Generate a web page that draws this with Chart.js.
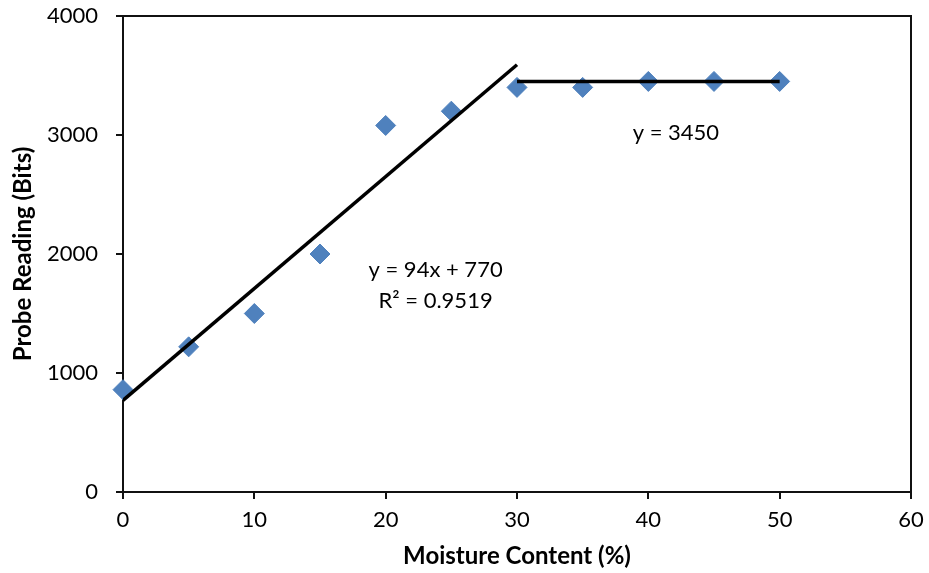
<!DOCTYPE html>
<html>
<head>
<meta charset="utf-8">
<title>Probe Reading vs Moisture Content</title>
<script src="https://cdn.jsdelivr.net/npm/chart.js@4.4.1/dist/chart.umd.min.js"></script>
<style>
  html, body { margin: 0; padding: 0; background: #fff; }
  #wrap { width: 929px; height: 573px; position: relative; }
</style>
</head>
<body>
<div id="wrap"><canvas id="probeChart"></canvas></div>
<script>
// measured points
const moisture = [0, 5, 10, 15, 20, 25, 30, 35, 40, 45, 50];
const probeReading = [860, 1220, 1500, 2000, 3080, 3200, 3400, 3400, 3450, 3450, 3450];

// linear fit over the rising part, flat fit over the plateau
const fitSlope = 94;
const fitIntercept = 770;
const fitRange = [0, 30];
const plateauValue = 3450;
const plateauRange = [30, 50];

const xTicks = [0, 10, 20, 30, 40, 50, 60];
const yTicks = [0, 1000, 2000, 3000, 4000];

const fitLabel = 'y = 94x + 770';
const r2Label = 'R\u00b2 = 0.9519';
const plateauLabel = 'y = 3450';

const FONT = 'Lato, "Open Sans", sans-serif';
Chart.defaults.font.family = FONT;
Chart.defaults.color = '#000';

const points = moisture.map((x, i) => ({ x: x, y: probeReading[i] }));
const fitLine = fitRange.map(x => ({ x: x, y: fitSlope * x + fitIntercept }));
const plateauLine = plateauRange.map(x => ({ x: x, y: plateauValue }));

// fixed axis boxes, no extra label overflow padding
function fixBox(size) {
    return s => {
        if (s.isHorizontal()) s.height = size; else s.width = size;
        s.paddingTop = s.paddingBottom = s.paddingLeft = s.paddingRight = 0;
    };
}

// box lines on top/right of plot area + equation labels
const extras = {
    id: 'extras',
    beforeDatasetsDraw(chart) {
        const { ctx, chartArea: a } = chart;
        ctx.save();
        ctx.strokeStyle = '#111';
        ctx.lineWidth = 2;
        ctx.beginPath();
        ctx.moveTo(a.left, a.top);
        ctx.lineTo(a.right, a.top);
        ctx.lineTo(a.right, a.bottom);
        ctx.stroke();
        ctx.restore();
    },
    afterDatasetsDraw(chart) {
        const { ctx, scales } = chart;
        ctx.save();
        ctx.fillStyle = '#000';
        ctx.font = '22px ' + FONT;
        ctx.textAlign = 'center';
        ctx.textBaseline = 'middle';
        const px = v => scales.x.getPixelForValue(v);
        const py = v => scales.y.getPixelForValue(v);
        ctx.fillText(fitLabel, px(23.8), py(1863));
        ctx.fillText(r2Label, px(23.8), py(1602));
        ctx.fillText(plateauLabel, px(42.1), py(3016));
        ctx.restore();
    }
};

const ctx = document.getElementById('probeChart').getContext('2d');
new Chart(ctx, {
    type: 'scatter',
    data: {
        datasets: [
            {
                label: 'Fit',
                type: 'line',
                data: fitLine,
                borderColor: '#000',
                borderWidth: 3.5,
                pointRadius: 0,
                fill: false,
                order: 1
            },
            {
                label: 'Plateau',
                type: 'line',
                data: plateauLine,
                borderColor: '#000',
                borderWidth: 3.5,
                pointRadius: 0,
                fill: false,
                order: 1
            },
            {
                label: 'Probe Reading',
                data: points,
                pointStyle: 'rectRot',
                pointRadius: 10,
                pointBackgroundColor: '#4f81bd',
                pointBorderColor: '#4f81bd',
                pointBorderWidth: 1,
                clip: false,
                order: 2
            }
        ]
    },
    options: {
        responsive: true,
        maintainAspectRatio: false,
        animation: false,
        layout: { padding: { top: 16, right: 18, left: 0, bottom: 0 } },
        plugins: {
            legend: { display: false },
            tooltip: { enabled: false }
        },
        scales: {
            x: {
                type: 'linear',
                min: 0,
                max: 60,
                afterBuildTicks: s => { s.ticks = xTicks.map(v => ({ value: v })); },
                afterFit: fixBox(81),
                ticks: { font: { size: 22 }, padding: 8, maxRotation: 0, callback: v => String(v) },
                grid: { drawOnChartArea: false, tickLength: 7, color: '#111', lineWidth: 2 },
                border: { color: '#111', width: 2 },
                title: {
                    display: true,
                    text: 'Moisture Content (%)',
                    font: { size: 24, weight: 'bold' },
                    padding: { top: 0, bottom: 2 }
                }
            },
            y: {
                type: 'linear',
                min: 0,
                max: 4000,
                afterBuildTicks: s => { s.ticks = yTicks.map(v => ({ value: v })); },
                afterFit: fixBox(123),
                ticks: { font: { size: 22 }, padding: 18, callback: v => String(v) },
                grid: { drawOnChartArea: false, tickLength: 7, color: '#111', lineWidth: 2 },
                border: { color: '#111', width: 2 },
                title: {
                    display: true,
                    text: 'Probe Reading (Bits)',
                    font: { size: 24, weight: 'bold' },
                    padding: { top: 9, bottom: 0 }
                }
            }
        }
    },
    plugins: [extras]
});
</script>
</body>
</html>
